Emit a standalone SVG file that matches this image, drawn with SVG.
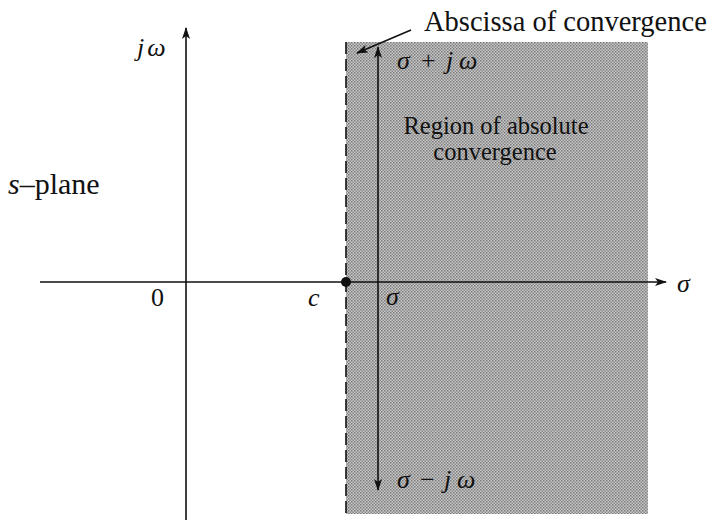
<svg xmlns="http://www.w3.org/2000/svg" width="712" height="527" viewBox="0 0 712 527">
<defs>
<marker id="ah" markerWidth="12" markerHeight="8" refX="11" refY="4" orient="auto" markerUnits="userSpaceOnUse">
<path d="M0,0 L12,4 L0,8 L3,4 Z" fill="#111"/>
</marker>
<pattern id="dots" width="3" height="3" patternUnits="userSpaceOnUse">
<rect width="3" height="3" fill="#c8c8c8"/>
<rect width="1.5" height="1.5" fill="#7a7a7a"/>
<rect x="1.5" y="1.5" width="1.5" height="1.5" fill="#8a8a8a"/>
</pattern>
</defs>
<style>
text{font-family:"Liberation Serif","Times New Roman",serif;fill:#111}
.i{font-style:italic}
.ax{stroke:#111;stroke-width:1.6;fill:none}
</style>
<rect width="712" height="527" fill="#fff"/>
<g id="region">
<rect x="346" y="42" width="302" height="472" fill="url(#dots)"/>
<line x1="346" y1="42" x2="346" y2="514" stroke="#111" stroke-width="1.6" stroke-dasharray="12,5"/>
</g>
<g id="connectors">
<line class="ax" x1="40" y1="282" x2="666" y2="282" marker-end="url(#ah)"/>
<line class="ax" x1="186" y1="520" x2="186" y2="28" marker-end="url(#ah)"/>
<line class="ax" x1="378" y1="282" x2="378" y2="47" marker-end="url(#ah)"/>
<line class="ax" x1="378" y1="282" x2="378" y2="490" marker-end="url(#ah)"/>
<line class="ax" x1="411" y1="30" x2="357" y2="53" marker-end="url(#ah)" stroke-width="1.3"/>
</g>
<g id="dot"><circle cx="346" cy="282" r="5" fill="#111"/></g>
<g id="labels">
<text x="424" y="31" style="font-size:28.5px">Abscissa of convergence</text>
<text x="137" y="56" class="i" style="font-size:26px">j<tspan dx="3">ω</tspan></text>
<text x="8" y="194" style="font-size:30px"><tspan class="i">s</tspan>–plane</text>
<text x="151" y="306" style="font-size:26px">0</text>
<text x="308" y="306" class="i" style="font-size:26px">c</text>
<text x="386" y="305" class="i" style="font-size:26px">σ</text>
<text x="677" y="292" class="i" style="font-size:26px">σ</text>
<text y="69" style="font-size:26px"><tspan x="397" class="i">σ</tspan><tspan x="421">+</tspan><tspan x="446" class="i">j</tspan><tspan x="459" class="i">ω</tspan></text>
<text x="496" y="134" style="font-size:24.5px" text-anchor="middle">Region of absolute</text>
<text x="495" y="160" style="font-size:24.5px" text-anchor="middle">convergence</text>
<text y="488" style="font-size:26px"><tspan x="397" class="i">σ</tspan><tspan x="420">−</tspan><tspan x="444" class="i">j</tspan><tspan x="457" class="i">ω</tspan></text>
</g>
</svg>
